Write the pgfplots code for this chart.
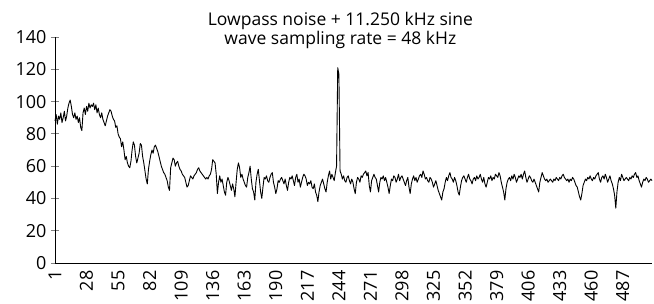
\documentclass[border=0pt]{standalone}
\usepackage{pgfplots}
\usepackage{pgfplotstable}
\pgfplotsset{compat=1.18}
\usepackage{fontspec}
\setmainfont{Open Sans}
\pgfplotstableread[row sep=\\, header=false]{
88\\92\\86\\91\\89\\93\\87\\90\\94\\88\\
91\\96\\99\\101\\97\\92\\90\\93\\89\\91\\
87\\90\\84\\82\\93\\96\\92\\97\\94\\99\\
96\\98\\97\\99\\95\\98\\93\\96\\92\\90\\
93\\89\\87\\85\\88\\91\\93\\95\\94\\91\\
89\\88\\84\\85\\80\\78\\77\\72\\75\\70\\
64\\66\\62\\60\\59\\63\\70\\75\\73\\66\\
62\\65\\68\\74\\73\\66\\62\\57\\52\\49\\
58\\63\\67\\70\\68\\72\\73\\71\\69\\66\\
63\\60\\58\\56\\55\\53\\51\\47\\45\\59\\
62\\65\\64\\60\\62\\63\\60\\58\\57\\55\\
54\\53\\50\\47\\48\\51\\54\\53\\52\\54\\
55\\56\\58\\59\\57\\56\\55\\54\\53\\52\\
53\\52\\54\\55\\58\\64\\63\\62\\55\\43\\
50\\54\\50\\52\\48\\44\\42\\50\\53\\51\\
48\\45\\49\\46\\41\\50\\58\\62\\59\\53\\
55\\52\\50\\48\\47\\53\\56\\60\\52\\46\\
44\\39\\50\\55\\58\\51\\44\\40\\47\\53\\
52\\54\\51\\50\\53\\55\\56\\50\\47\\43\\
46\\51\\50\\52\\53\\51\\49\\52\\48\\45\\
50\\53\\52\\54\\51\\48\\53\\55\\50\\52\\
47\\50\\53\\55\\54\\52\\48\\50\\49\\51\\
47\\46\\49\\44\\42\\38\\44\\48\\50\\52\\
49\\46\\44\\50\\54\\57\\52\\55\\53\\51\\
56\\60\\121\\117\\57\\55\\52\\54\\51\\50\\
53\\54\\51\\49\\52\\50\\46\\43\\50\\53\\
52\\50\\54\\53\\55\\56\\57\\54\\56\\48\\
44\\51\\53\\55\\53\\52\\48\\44\\50\\53\\
52\\54\\51\\53\\50\\47\\43\\48\\52\\51\\
54\\53\\50\\52\\55\\51\\53\\54\\52\\50\\
48\\51\\53\\47\\43\\49\\52\\54\\51\\53\\
50\\52\\54\\55\\53\\57\\55\\52\\53\\51\\
50\\53\\52\\50\\47\\49\\51\\48\\45\\43\\
41\\39\\44\\46\\50\\53\\51\\54\\56\\53\\
52\\50\\53\\51\\48\\44\\42\\47\\51\\53\\
54\\52\\50\\53\\55\\52\\51\\49\\52\\53\\
51\\54\\52\\53\\55\\52\\50\\53\\49\\47\\
50\\53\\52\\54\\51\\53\\52\\55\\54\\53\\
56\\54\\50\\47\\44\\39\\46\\50\\52\\53\\
51\\54\\52\\55\\53\\50\\52\\54\\53\\55\\
52\\55\\57\\53\\50\\52\\54\\53\\51\\50\\
52\\50\\48\\46\\44\\50\\53\\56\\54\\52\\
51\\52\\50\\51\\52\\51\\50\\52\\51\\53\\
52\\51\\53\\52\\54\\55\\53\\52\\51\\52\\
50\\52\\51\\53\\52\\50\\48\\47\\44\\41\\
39\\43\\48\\50\\52\\51\\53\\52\\54\\52\\
51\\53\\52\\54\\55\\56\\52\\50\\53\\54\\
52\\55\\53\\50\\52\\54\\51\\49\\46\\42\\
34\\44\\50\\53\\51\\55\\53\\51\\52\\53\\
52\\51\\53\\52\\54\\53\\55\\56\\53\\54\\
51\\49\\47\\50\\52\\51\\53\\52\\50\\51\\
52\\51\\
}\spectrum
\begin{document}
\begin{tikzpicture}
\begin{axis}[
  scale only axis,
  width=597pt, height=226pt,
  xmin=1, xmax=512, ymin=0, ymax=140,
  axis x line*=bottom, axis y line*=left,
  axis line style={-, line width=0.9pt},
  xtick={1,28,...,487},
  ytick={0,20,...,140},
  x tick label style={rotate=90, anchor=east, xshift=0pt},
  xticklabel shift=0pt,
  y tick label style={xshift=-1pt},
  xtick style={draw=none},
  ytick style={line width=0.9pt},
  tick align=center,
  major tick length=8pt,
  /pgf/number format/assume math mode=true,
  tick label style={font=\fontsize{18}{20}\selectfont},
  clip=false,
]
\addplot[black, line width=0.9pt, line join=round] table[x expr=\coordindex+1, y index=0] {\spectrum};
\coordinate (bl) at (rel axis cs:0,0);
\coordinate (tr) at (rel axis cs:1,1);
\node[align=center, anchor=north, inner sep=0pt, font=\fontsize{17.5}{19}\selectfont]
  at ([yshift=25pt]rel axis cs:0.478,1) {Lowpass noise + 11.250 kHz sine\\wave sampling rate = 48 kHz};
\end{axis}
\pgfresetboundingbox
\useasboundingbox ([shift={(-55pt,-41pt)}]bl) rectangle ([shift={(2pt,37pt)}]tr);
\end{tikzpicture}
\end{document}
